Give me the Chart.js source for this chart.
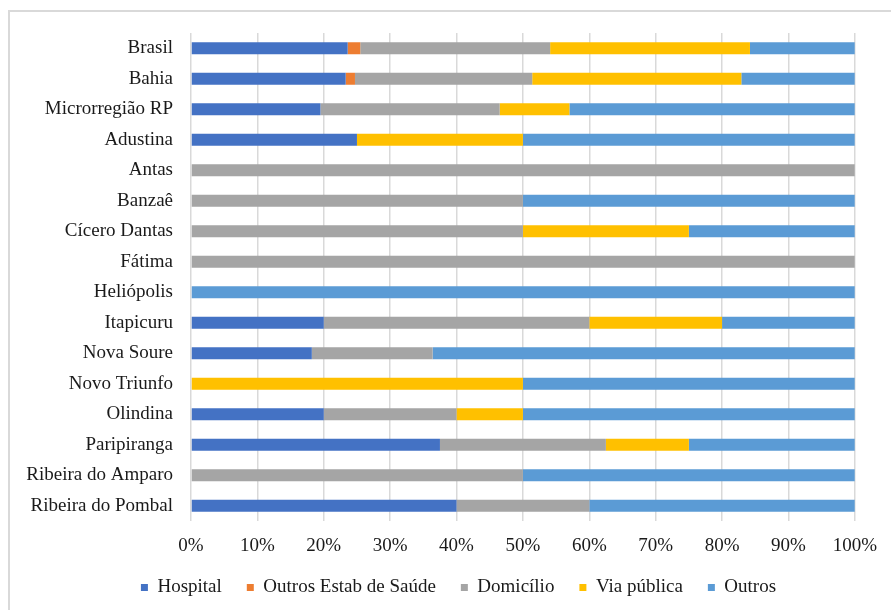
<!DOCTYPE html>
<html>
<head>
<meta charset="utf-8">
<script src="https://cdn.jsdelivr.net/npm/chart.js@4/dist/chart.umd.min.js"></script>
<style>
  html, body { margin: 0; padding: 0; background: #fff; }
  body { width: 891px; height: 610px; overflow: hidden; position: relative; }
  .moldura { position: absolute; left: 8px; top: 10px; width: 900px; height: 620px; border-left: 2px solid #d9d9d9; border-top: 2px solid #d9d9d9; }
  #grafico { position: absolute; left: 0; top: 0; }
</style>
</head>
<body>
<div class="moldura"></div>
<canvas id="grafico" width="891" height="610"></canvas>
<script>
const locais = ['Brasil', 'Bahia', 'Microrregião RP', 'Adustina', 'Antas', 'Banzaê', 'Cícero Dantas',
  'Fátima', 'Heliópolis', 'Itapicuru', 'Nova Soure', 'Novo Triunfo', 'Olindina', 'Paripiranga',
  'Ribeira do Amparo', 'Ribeira do Pombal'];

// percentuais por local de ocorrência
const hospital   = [23.6, 23.3, 19.5, 25, 0, 0, 0, 0, 0, 20, 18.2, 0, 20, 37.5, 0, 40];
const outrosEstab = [1.9, 1.4, 0, 0, 0, 0, 0, 0, 0, 0, 0, 0, 0, 0, 0, 0];
const domicilio  = [28.6, 26.7, 27.0, 0, 100, 50, 50, 100, 0, 40, 18.2, 0, 20, 25, 50, 20];
const viaPublica = [30.1, 31.5, 10.5, 25, 0, 0, 25, 0, 0, 20, 0, 50, 10, 12.5, 0, 0];
const outros     = [15.8, 17.1, 43.0, 50, 0, 50, 25, 0, 100, 20, 63.6, 50, 50, 25, 50, 40];

const ticksX = ['0%', '10%', '20%', '30%', '40%', '50%', '60%', '70%', '80%', '90%', '100%'];

const fonte = { family: '"Liberation Serif", "Times New Roman", serif', size: 19 };
const corTexto = '#1a1a1a';

function serie(label, data, cor) {
  return { label: label, data: data, backgroundColor: cor, borderWidth: 0,
    barPercentage: 0.39, categoryPercentage: 1 };
}

// empurra a legenda um pouco pra direita, como no original
const moveLegenda = {
  id: 'moveLegenda',
  afterLayout(chart) {
    chart.legend.left += 31;
    chart.legend.right += 31;
  }
};

const config = {
  type: 'bar',
  data: {
    labels: locais,
    datasets: [
      serie('Hospital', hospital, '#4472C4'),
      serie('Outros Estab de Saúde', outrosEstab, '#ED7D31'),
      serie('Domicílio', domicilio, '#A5A5A5'),
      serie('Via pública', viaPublica, '#FFC000'),
      serie('Outros', outros, '#5B9BD5')
    ]
  },
  options: {
    indexAxis: 'y',
    responsive: false,
    animation: false,
    layout: { padding: { top: 33, right: 36, bottom: 3, left: 0 } },
    scales: {
      x: {
        stacked: true, min: 0, max: 100,
        afterBuildTicks: (ax) => { ax.ticks = ticksX.map((t, i) => ({ value: i * 10 })); },
        ticks: { callback: (v, i) => ticksX[i], font: fonte, color: corTexto, padding: 14, maxRotation: 0 },
        grid: { color: '#d9d9d9', lineWidth: 1.5, drawTicks: false },
        border: { display: false },
        afterFit: (ax) => { ax.height = 32; }
      },
      y: {
        stacked: true,
        ticks: { font: fonte, color: corTexto, padding: 18, autoSkip: false },
        grid: { display: false, drawTicks: false },
        border: { display: false },
        afterFit: (ax) => { ax.width = 191; }
      }
    },
    plugins: {
      legend: {
        position: 'bottom',
        labels: { font: fonte, color: corTexto, boxWidth: 7, boxHeight: 7, padding: 25 }
      },
      tooltip: { enabled: false }
    }
  },
  plugins: [moveLegenda]
};

new Chart(document.getElementById('grafico'), config);
</script>
</body>
</html>
